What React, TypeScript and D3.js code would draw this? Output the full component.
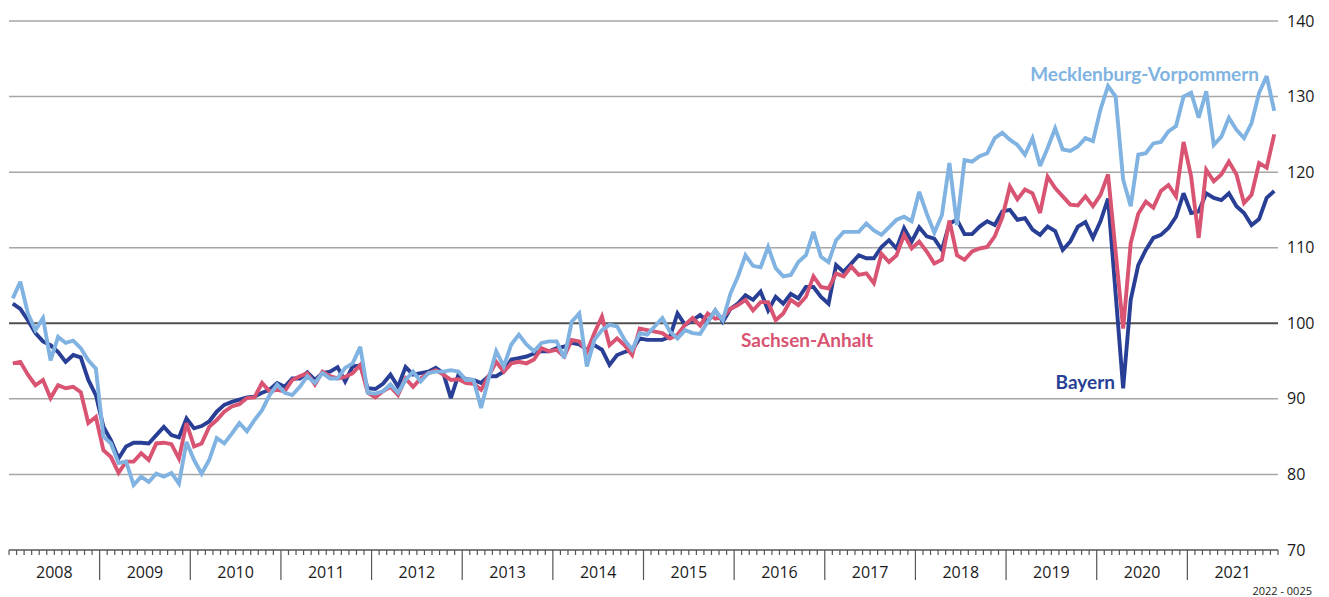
import React from 'react';
import * as d3 from 'd3';

const years = [2008, 2009, 2010, 2011, 2012, 2013, 2014, 2015, 2016, 2017, 2018, 2019, 2020, 2021];
const yTicks = [70, 80, 90, 100, 110, 120, 130, 140];

// monthly index values, Jan 2008 .. Dec 2021
const bayern = [
  102.6, 101.9, 100.4, 98.7, 97.6, 97.1, 96.2, 94.9, 95.8, 95.5, 92.5, 90.5,
  86.3, 84.5, 82.1, 83.7, 84.2, 84.2, 84.1, 85.2, 86.3, 85.2, 84.9, 87.4,
  86.1, 86.4, 87.0, 88.3, 89.2, 89.6, 89.9, 90.2, 90.3, 90.8, 91.2, 92.1,
  91.6, 92.7, 92.7, 93.5, 92.5, 93.4, 93.6, 94.2, 92.3, 94.3, 94.4, 91.4,
  91.3, 92.0, 93.2, 91.6, 94.2, 93.2, 93.4, 93.6, 94.1, 93.4, 90.1, 93.2,
  92.6, 92.5, 92.1, 93.0, 93.0, 93.6, 95.2, 95.4, 95.6, 96.0, 96.3, 96.3,
  96.7, 96.9, 97.4, 97.2, 96.5, 97.1, 96.5, 94.5, 95.8, 96.2, 96.5, 98.0,
  97.8, 97.8, 97.8, 98.2, 101.3, 99.8, 100.4, 101.1, 100.2, 101.7, 100.2, 101.9,
  102.6, 103.7, 103.1, 104.2, 101.7, 103.5, 102.6, 103.9, 103.3, 104.8, 104.8, 103.5,
  102.6, 107.7, 106.8, 107.9, 109.0, 108.6, 108.6, 110.1, 111.0, 109.9, 112.6, 110.8,
  112.7, 111.5, 111.2, 109.7, 113.2, 113.7, 111.8, 111.8, 112.8, 113.5, 113.0, 114.8,
  115.0, 113.7, 113.9, 112.4, 111.7, 112.8, 112.2, 109.7, 110.8, 112.8, 113.4, 111.3,
  113.5, 116.5, 104.0, 91.4, 103.1, 107.7, 109.7, 111.3, 111.7, 112.6, 114.1, 117.2,
  114.6, 114.8, 117.2, 116.6, 116.3, 117.2, 115.5, 114.6, 113.0, 113.8, 116.6, 117.5,
];

const sachsenAnhalt = [
  94.7, 94.9, 93.2, 91.8, 92.5, 90.1, 91.8, 91.4, 91.6, 90.9, 86.8, 87.6,
  83.2, 82.3, 80.2, 81.7, 81.7, 82.8, 81.9, 84.1, 84.2, 84.0, 82.1, 86.8,
  83.7, 84.1, 86.3, 87.2, 88.3, 89.0, 89.3, 90.1, 90.2, 92.1, 91.0, 91.2,
  91.0, 92.5, 93.0, 93.4, 91.9, 93.6, 93.0, 92.7, 92.9, 93.4, 94.5, 90.8,
  90.2, 91.0, 91.6, 90.5, 92.7, 91.6, 92.7, 93.4, 93.8, 93.2, 92.5, 92.6,
  92.1, 92.0, 91.2, 93.0, 94.9, 93.6, 94.7, 94.9, 94.7, 95.2, 96.7, 96.3,
  96.5, 95.6, 97.8, 97.6, 96.2, 98.7, 100.9, 97.1, 98.0, 97.1, 95.8, 99.3,
  99.1, 98.9, 98.7, 98.0, 98.5, 99.8, 100.7, 99.7, 101.3, 100.6, 100.8, 101.9,
  102.4, 103.1, 101.7, 102.8, 102.8, 100.4, 101.3, 103.1, 102.4, 103.5, 106.2, 104.8,
  104.6, 106.6, 106.2, 107.5, 106.4, 106.6, 105.3, 109.2, 108.1, 109.0, 111.7, 109.9,
  110.8, 109.5, 107.9, 108.4, 113.6, 109.0, 108.4, 109.5, 109.9, 110.1, 111.5, 114.0,
  118.1, 116.4, 117.7, 117.2, 114.6, 119.4, 117.9, 116.8, 115.7, 115.6, 116.8, 115.5,
  117.0, 119.7, 109.5, 99.3, 110.6, 114.5, 116.1, 115.3, 117.5, 118.3, 116.8, 124.0,
  119.4, 111.3, 120.3, 118.8, 119.7, 121.4, 119.7, 115.9, 117.0, 121.2, 120.6, 125.0,
];

const mecklenburgVorpommern = [
  103.3, 105.5, 101.3, 99.1, 100.7, 95.1, 98.2, 97.4, 97.7, 96.7, 95.1, 94.0,
  85.0, 84.1, 81.5, 81.7, 78.6, 79.7, 79.0, 80.1, 79.7, 80.2, 78.8, 84.3,
  81.9, 80.1, 81.9, 84.8, 84.1, 85.4, 86.8, 85.7, 87.2, 88.5, 90.5, 91.9,
  90.8, 90.5, 91.6, 93.0, 92.1, 93.4, 92.7, 92.7, 94.1, 94.7, 96.9, 90.8,
  90.7, 91.0, 91.9, 90.8, 92.5, 93.6, 92.3, 93.4, 93.6, 93.6, 93.8, 93.6,
  92.5, 92.5, 88.8, 92.7, 96.3, 94.3, 97.2, 98.5, 97.2, 96.3, 97.4, 97.6,
  97.6, 95.4, 100.2, 101.3, 94.3, 97.8, 99.1, 99.8, 99.6, 97.8, 96.5, 98.7,
  98.5, 99.6, 100.7, 98.9, 98.0, 99.1, 98.7, 98.6, 100.2, 101.7, 100.4, 103.9,
  106.2, 109.0, 107.6, 107.4, 110.1, 107.3, 106.2, 106.4, 108.1, 109.0, 112.1, 108.8,
  108.1, 111.0, 112.1, 112.1, 112.1, 113.2, 112.3, 111.7, 112.7, 113.7, 114.1, 113.5,
  117.4, 114.5, 112.0, 114.3, 121.2, 113.0, 121.6, 121.4, 122.1, 122.5, 124.5, 125.2,
  124.3, 123.6, 122.3, 124.5, 120.8, 123.2, 125.8, 123.0, 122.8, 123.4, 124.5, 124.1,
  128.3, 131.4, 130.0, 119.0, 115.5, 122.3, 122.5, 123.8, 124.0, 125.4, 126.1, 130.0,
  130.5, 127.2, 130.7, 123.6, 124.7, 127.2, 125.6, 124.5, 126.5, 130.5, 132.7, 128.1,
];

const W = 1329;
const H = 597;
const left = 9;
const right = 1278;
const top = 21;
const bottom = 550;

const numFont = '"Open Sans", "DejaVu Sans", sans-serif';
const labelFont = 'Lato, "Open Sans", sans-serif';

export default function App() {
  const months = years.length * 12;
  const x = d3.scaleLinear().domain([0, months]).range([left, right]);
  const y = d3.scaleLinear().domain([70, 140]).range([bottom, top]);

  const line = d3.line<number>()
    .x((_, i) => x(i + 0.5))
    .y(d => y(d));

  const series = [
    { data: bayern, color: '#283f95' },
    { data: sachsenAnhalt, color: '#d85472' },
    { data: mecklenburgVorpommern, color: '#80b3e1' },
  ];

  const monthTicks = d3.range(0, months + 1);

  return (
    <svg width={W} height={H} style={{ position: 'absolute', left: 0, top: 0, background: '#fff' }}>
      {/* gridlines */}
      {yTicks.filter(t => t !== 70).map(t => (
        <line key={t} x1={left} x2={right} y1={y(t)} y2={y(t)}
          stroke={t === 100 ? '#505050' : '#a6a6a6'} strokeWidth={t === 100 ? 2 : 1.5} />
      ))}

      {/* y labels on the right */}
      {yTicks.map(t => (
        <text key={t} x={1287} y={y(t)} dy="0.35em" fontFamily={numFont} fontSize={16} fill="#1a1a1a">{t}</text>
      ))}

      {/* x axis */}
      <line x1={left} x2={right} y1={bottom} y2={bottom} stroke="#555" strokeWidth={1.6} />
      {monthTicks.map(m => {
        const major = m % 12 === 0 && m > 0 && m < months;
        return (
          <line key={m} x1={x(m)} x2={x(m)} y1={bottom} y2={major ? 580 : 555}
            stroke="#555" strokeWidth={1.2} />
        );
      })}
      {years.map((yr, i) => (
        <text key={yr} x={x(i * 12 + 6)} y={578} textAnchor="middle"
          fontFamily={numFont} fontSize={16} fill="#1a1a1a">{yr}</text>
      ))}

      {/* series */}
      {series.map((s, i) => (
        <path key={i} d={line(s.data) || ''} fill="none" stroke={s.color}
          strokeWidth={3.9} strokeLinejoin="miter" strokeMiterlimit={3} />
      ))}

      {/* labels */}
      <text x={1259} y={81} textAnchor="end" fontFamily={labelFont} fontWeight={700} fontSize={19} fill="#80b3e1">Mecklenburg-Vorpommern</text>
      <text x={741} y={347} fontFamily={labelFont} fontWeight={700} fontSize={19} fill="#d85472">Sachsen-Anhalt</text>
      <text x={1115} y={389} textAnchor="end" fontFamily={labelFont} fontWeight={700} fontSize={19} fill="#283f95">Bayern</text>

      <text x={1312} y={595} textAnchor="end" fontFamily={numFont} fontSize={11} fill="#1a1a1a">2022 - 0025</text>
    </svg>
  );
}
